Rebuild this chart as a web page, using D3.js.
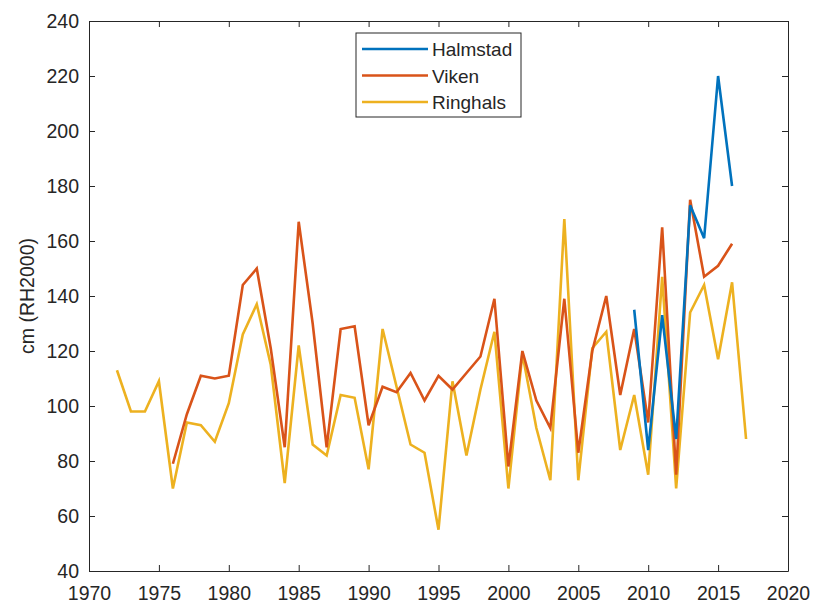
<!DOCTYPE html>
<html><head><meta charset="utf-8">
<script src="https://cdn.jsdelivr.net/npm/d3@7"></script>
<style>body{margin:0;background:#fff}svg{display:block}text{font-family:"Liberation Sans",Arial,sans-serif}</style>
</head><body><svg id="c" width="814" height="606"></svg>
<script>
const ringhalsYears = d3.range(1972, 2018);
const ringhals = [113,98,98,109,70,94,93,87,101,126,137,115,72,122,86,82,104,103,77,128,107,86,83,55,109,82,106,127,70,119,92,73,168,73,121,127,84,104,75,147,70,134,144,117,145,88];
const vikenYears = d3.range(1976, 2017);
const viken = [79,97,111,110,111,144,150,121,85,167,130,85,128,129,93,107,105,112,102,111,106,112,118,139,78,120,102,92,139,83,120,140,104,128,94,165,75,175,147,151,159];
const halmstadYears = d3.range(2009, 2017);
const halmstad = [135,84,133,88,173,161,220,180];
const seriesNames = ["Halmstad","Viken","Ringhals"];
const seriesColors = ["#0072BD","#D95319","#EDB120"];
const xTicks = d3.range(1970, 2021, 5);
const yTicks = d3.range(40, 241, 20);

const svg = d3.select("#c");
const L=89, R=788, T=21, B=571;
const x = d3.scaleLinear().domain([1970,2020]).range([L,R]);
const y = d3.scaleLinear().domain([40,240]).range([B,T]);

const ax = "#262626";
const fs = 19.5;
svg.append("g").attr("transform",`translate(0,${B})`)
  .call(d3.axisBottom(x).tickValues(xTicks).tickFormat(d3.format("d")).tickSizeInner(-6).tickSizeOuter(0).tickPadding(15));
svg.append("g").attr("transform",`translate(0,${T})`)
  .call(d3.axisTop(x).tickValues(xTicks).tickFormat("").tickSizeInner(-6).tickSizeOuter(0));
svg.append("g").attr("transform",`translate(${L},0)`)
  .call(d3.axisLeft(y).tickValues(yTicks).tickSizeInner(-6).tickSizeOuter(0).tickPadding(10));
svg.append("g").attr("transform",`translate(${R},0)`)
  .call(d3.axisRight(y).tickValues(yTicks).tickFormat("").tickSizeInner(-6).tickSizeOuter(0));
svg.selectAll(".domain,.tick line").attr("stroke",ax).attr("stroke-width",1);
svg.selectAll(".tick text").attr("fill",ax).attr("font-size",fs);

svg.append("text").attr("transform",`translate(34,${(T+B)/2}) rotate(-90)`)
  .attr("text-anchor","middle").attr("font-size",fs).attr("fill",ax).text("cm (RH2000)");

const line = d3.line().x(d=>x(d[0])).y(d=>y(d[1]));
const data = [
  d3.zip(halmstadYears, halmstad),
  d3.zip(vikenYears, viken),
  d3.zip(ringhalsYears, ringhals)
];
[2,1,0].forEach(i=>{
  svg.append("path").datum(data[i]).attr("d",line).attr("fill","none")
    .attr("stroke",seriesColors[i]).attr("stroke-width",2.6).attr("stroke-linejoin","miter");
});

const lg = svg.append("g").attr("transform","translate(356,33)");
lg.append("rect").attr("width",165).attr("height",84).attr("fill","#fff").attr("stroke",ax).attr("stroke-width",1);
seriesNames.forEach((n,i)=>{
  const yy = 16 + i*26.5;
  lg.append("line").attr("x1",6).attr("x2",72).attr("y1",yy).attr("y2",yy).attr("stroke",seriesColors[i]).attr("stroke-width",2.6);
  lg.append("text").attr("x",76).attr("y",yy+7).attr("font-size",19).attr("fill",ax).text(n);
});
</script></body></html>
